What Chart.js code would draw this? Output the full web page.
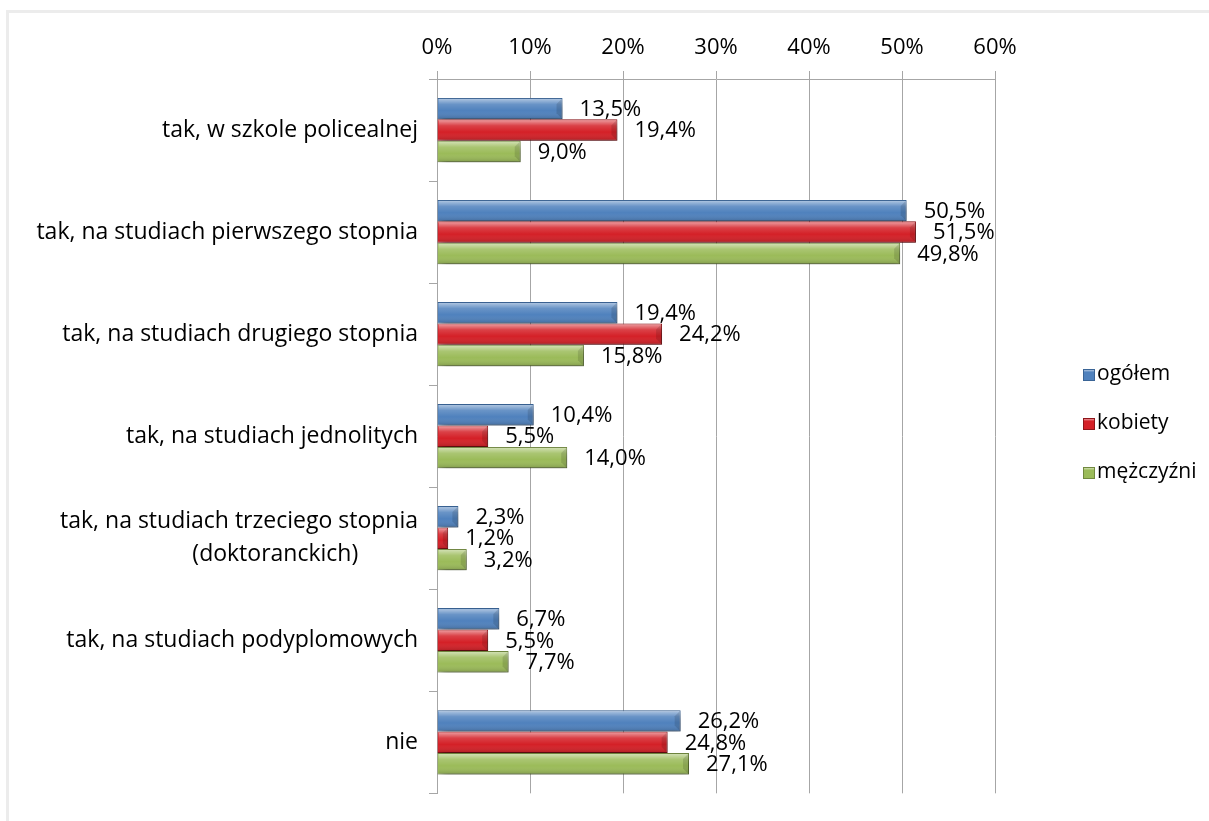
<!DOCTYPE html>
<html lang="pl">
<head>
  <meta charset="UTF-8">
  <title>Kontynuacja nauki</title>
  <script src="https://cdn.jsdelivr.net/npm/chart.js"></script>
  <style>
    html, body { margin: 0; padding: 0; background: #fff; }
    .frame {
      position: absolute; left: 6px; top: 10px; width: 1300px; height: 900px;
      border-left: 3px solid #ececec; border-top: 3px solid #ececec;
    }
    canvas { position: absolute; left: 0; top: 0; }
  </style>
</head>
<body>
  <div class="frame"></div>
  <canvas id="chart" width="1209" height="821"></canvas>

  <script>
    // data
    const categories = [
      "tak, w szkole policealnej",
      "tak, na studiach pierwszego stopnia",
      "tak, na studiach drugiego stopnia",
      "tak, na studiach jednolitych",
      ["tak, na studiach trzeciego stopnia", "(doktoranckich)"],
      "tak, na studiach podyplomowych",
      "nie"
    ];
    const seriesNames = ["ogółem", "kobiety", "mężczyźni"];
    const ogolem = [13.5, 50.5, 19.4, 10.4, 2.3, 6.7, 26.2];
    const kobiety = [19.4, 51.5, 24.2, 5.5, 1.2, 5.5, 24.8];
    const mezczyzni = [9.0, 49.8, 15.8, 14.0, 3.2, 7.7, 27.1];
    const xTicks = [0, 10, 20, 30, 40, 50, 60];

    const fills = ["#4f81bd", "#d42027", "#9bbb59"];
    const edges = ["#3a6496", "#8e1519", "#71893f"];
    const FONT = "'Open Sans', sans-serif";
    const FSIZE = 22;

    const pct = v => v.toFixed(1).replace(".", ",") + "%";

    // shadow + bevel look, and value labels
    const barLook = {
      id: "barLook",
      beforeDatasetsDraw(chart) {
        const ctx = chart.ctx;
        ctx.save();
        ctx.shadowColor = "rgba(0,0,0,0.45)";
        ctx.shadowBlur = 8;
        ctx.shadowOffsetX = 3;
        ctx.shadowOffsetY = 5;
      },
      afterDatasetsDraw(chart) {
        const ctx = chart.ctx;
        ctx.restore();
        chart.data.datasets.forEach((ds, i) => {
          chart.getDatasetMeta(i).data.forEach(bar => {
            const top = bar.y - bar.height / 2;
            const h = bar.height;
            const x0 = bar.base, x1 = bar.x;
            const w = x1 - x0;
            if (w <= 0) return;
            const bev = Math.min(6, w / 2);
            ctx.save();
            let g = ctx.createLinearGradient(0, top, 0, top + h);
            g.addColorStop(0, "rgba(255,255,255,0.6)");
            g.addColorStop(0.3, "rgba(255,255,255,0.15)");
            g.addColorStop(0.6, "rgba(255,255,255,0)");
            g.addColorStop(1, "rgba(0,0,0,0.18)");
            ctx.fillStyle = g;
            ctx.fillRect(x0 + 1, top + 1, w - 2, h - 2);
            // right bevel
            ctx.beginPath();
            ctx.moveTo(x1 - 1, top + 1);
            ctx.lineTo(x1 - bev, top + bev);
            ctx.lineTo(x1 - bev, top + h - bev);
            ctx.lineTo(x1 - 1, top + h - 1);
            ctx.closePath();
            ctx.fillStyle = "rgba(0,0,0,0.12)";
            ctx.fill();
            ctx.restore();
          });
        });
        // value labels
        ctx.save();
        ctx.font = FSIZE + "px " + FONT;
        ctx.fillStyle = "#000";
        ctx.textAlign = "left";
        ctx.textBaseline = "middle";
        chart.data.datasets.forEach((ds, i) => {
          chart.getDatasetMeta(i).data.forEach((bar, j) => {
            ctx.fillText(pct(ds.data[j]), bar.x + 17, bar.y + 1);
          });
        });
        ctx.restore();
      }
    };

    // legend on the right
    const sideLegend = {
      id: "sideLegend",
      afterDraw(chart) {
        const ctx = chart.ctx;
        ctx.save();
        ctx.font = "21px " + FONT;
        ctx.textBaseline = "middle";
        ctx.textAlign = "left";
        seriesNames.forEach((name, i) => {
          const y = 374 + i * 49;
          const g = ctx.createLinearGradient(0, y - 6, 0, y + 6);
          g.addColorStop(0, "#fff");
          g.addColorStop(0.35, fills[i]);
          g.addColorStop(1, fills[i]);
          ctx.fillStyle = g;
          ctx.fillRect(1083, y - 5, 12, 12);
          ctx.strokeStyle = edges[i];
          ctx.lineWidth = 1;
          ctx.strokeRect(1083.5, y - 4.5, 11, 11);
          ctx.fillStyle = "#000";
          ctx.fillText(name, 1097, y);
        });
        ctx.restore();
      }
    };

    new Chart(document.getElementById("chart"), {
      type: "bar",
      data: {
        labels: categories,
        datasets: [
          { label: seriesNames[0], data: ogolem },
          { label: seriesNames[1], data: kobiety },
          { label: seriesNames[2], data: mezczyzni }
        ].map((d, i) => Object.assign(d, {
          backgroundColor: fills[i],
          borderColor: edges[i],
          borderWidth: 1,
          barPercentage: 1,
          categoryPercentage: 0.63
        }))
      },
      options: {
        indexAxis: "y",
        responsive: false,
        animation: false,
        devicePixelRatio: 1,
        layout: { padding: { left: 0, top: 0, right: 214, bottom: 24 } },
        plugins: {
          legend: { display: false },
          tooltip: { enabled: false }
        },
        scales: {
          x: {
            position: "top",
            min: 0,
            max: 60,
            afterBuildTicks: s => { s.ticks = xTicks.map(v => ({ value: v })); },
            afterFit: s => { s.height = 79; },
            ticks: {
              callback: v => v + "%",
              color: "#000",
              padding: 10,
              maxRotation: 0,
              font: { family: FONT, size: FSIZE }
            },
            grid: { color: "#a6a6a6", tickLength: 8, lineWidth: 1 },
            border: { color: "#a6a6a6" }
          },
          y: {
            afterFit: s => { s.width = 437; },
            ticks: {
              color: "#000",
              padding: 11,
              font: { family: FONT, size: 23, lineHeight: 1.45 },
              callback: function (v, i) {
                const l = categories[i];
                return Array.isArray(l) ? [l[0], l[1] + " ".repeat(10)] : l;
              }
            },
            grid: { drawOnChartArea: false, tickLength: 8, color: "#a6a6a6" },
            border: { color: "#a6a6a6" }
          }
        }
      },
      plugins: [barLook, sideLegend]
    });
  </script>
</body>
</html>
